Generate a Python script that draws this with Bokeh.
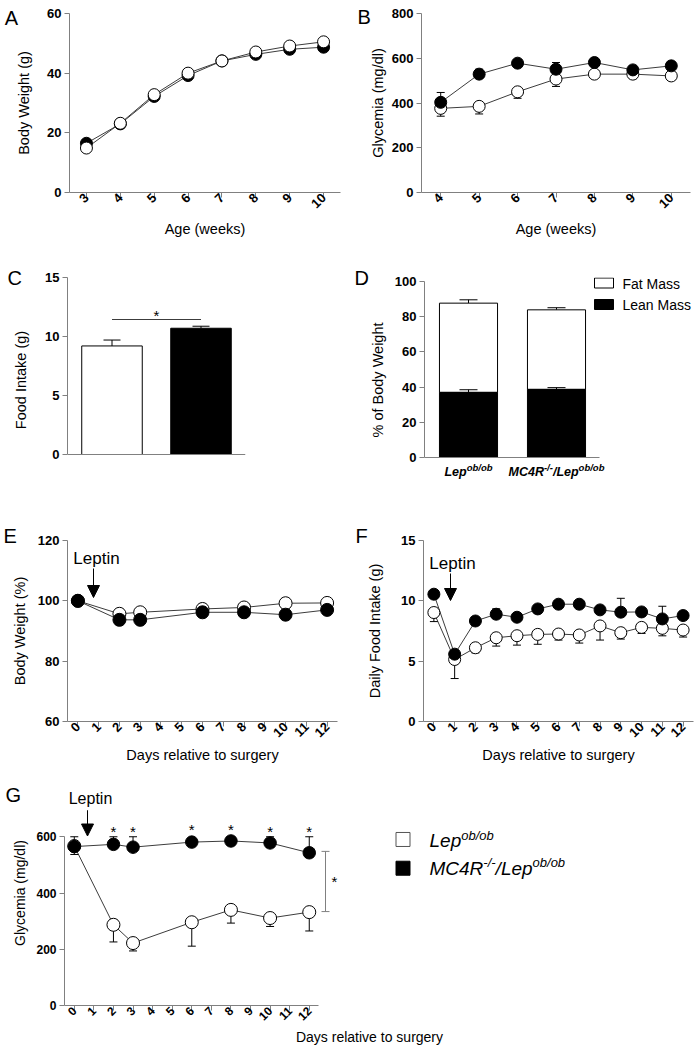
import math
from bokeh.plotting import figure
from bokeh.layouts import column, row
from bokeh.models import Range1d, FixedTicker, Label, Arrow, NormalHead
from bokeh.core.properties import value
from bokeh.embed import file_html
from bokeh.resources import INLINE

# ---------------- data ----------------
# A: body weight (g) vs age (weeks)
a_weeks = [3, 4, 5, 6, 7, 8, 9, 10]
a_lep = [14.9, 23.2, 32.8, 40.0, 44.1, 47.1, 49.1, 50.5]
a_lep_sem = [1.2, 0.8, 1.0, 0.9, 0.8, 1.1, 1.0, 1.0]
a_mc4r = [16.5, 23.0, 32.2, 39.2, 44.1, 46.3, 48.0, 48.7]
a_mc4r_sem = [0.7, 0.6, 0.8, 0.7, 0.6, 0.7, 0.8, 0.8]

# B: glycemia (mg/dl) vs age (weeks)
b_weeks = [4, 5, 6, 7, 8, 9, 10]
b_lep = [376, 385, 450, 507, 529, 529, 521]
b_lep_sem = [35, 34, 29, 33, 12, 20, 20]
b_mc4r = [403, 529, 578, 551, 581, 548, 566]
b_mc4r_sem = [44, 22, 6, 30, 8, 18, 8]

# C: food intake (g)
c_groups = ["Lep ob/ob", "MC4R-/-/Lep ob/ob"]
c_intake = [9.2, 10.7]
c_intake_sem = [0.5, 0.17]
c_sig_level = 11.44

# D: body composition (% of body weight)
d_lean = [37.0, 38.7]
d_lean_sem = [1.5, 1.0]
d_fat = [50.7, 45.2]
d_total_sem = [1.9, 1.2]

# E: body weight (%) vs days relative to surgery
e_days = [0, 2, 3, 6, 8, 10, 12]
e_lep = [100, 95.7, 96.2, 97.3, 97.8, 99.2, 99.3]
e_lep_sem = [0.3, 0.6, 0.6, 0.5, 0.5, 0.6, 0.6]
e_mc4r = [100, 93.7, 93.7, 96.2, 96.2, 95.4, 97.0]
e_mc4r_sem = [0.3, 0.6, 0.6, 0.5, 0.5, 0.6, 0.6]

# F: daily food intake (g)
f_days = [0, 1, 2, 3, 4, 5, 6, 7, 8, 9, 10, 11, 12]
f_lep = [9.03, 5.14, 6.11, 6.94, 7.11, 7.22, 7.25, 7.17, 7.92, 7.36, 7.80, 7.72, 7.58]
f_lep_sem = [0.75, 1.58, 0.42, 0.69, 0.78, 0.82, 0.50, 0.67, 1.17, 0.53, 0.50, 0.62, 0.58]
f_mc4r = [10.55, 5.58, 8.33, 8.89, 8.64, 9.33, 9.72, 9.72, 9.25, 9.06, 9.08, 8.50, 8.78]
f_mc4r_sem = [0.3, 0.3, 0.2, 0.45, 0.3, 0.3, 0.2, 0.2, 0.3, 1.15, 0.3, 1.05, 0.3]

# G: glycemia (mg/dl)
g_days = [0, 2, 3, 6, 8, 10, 12]
g_lep = [567, 287, 222, 296, 340, 311, 332]
g_lep_sem = [30, 61, 28, 85, 47, 30, 67]
g_mc4r = [565, 573, 563, 581, 585, 578, 543]
g_mc4r_sem = [35, 27, 37, 8, 8, 22, 57]
g_star_days = [2, 3, 6, 8, 10, 12]
g_star_y = [617, 617, 626, 626, 617, 617]
g_bracket = [334, 548]
g_bracket_star_y = 442

# ---------------- helpers ----------------
FONT = "Liberation Sans"
AX = "#808080"
LINE = "#3c3c3c"

W_REG = {"L": 556, "e": 556, "p": 556, "M": 833, "C": 722, "4": 556, "R": 722,
         "/": 278, "o": 556, "b": 556, "-": 333}
W_BOLD = {"L": 611, "e": 556, "p": 611, "M": 833, "C": 722, "4": 556, "R": 722,
          "/": 278, "o": 611, "b": 611, "-": 333}


def text_w(s, size, bold):
    t = W_BOLD if bold else W_REG
    return sum(t.get(c, 556) for c in s) * size / 1000.0


class Frame:
    def __init__(self, l, t, r, b, xr, yr):
        self.l, self.t, self.r, self.b = l, t, r, b
        self.xr, self.yr = xr, yr

    def x(self, px):
        return self.xr[0] + (px - self.l) * (self.xr[1] - self.xr[0]) / (self.r - self.l)

    def y(self, py):
        return self.yr[0] + (self.b - py) * (self.yr[1] - self.yr[0]) / (self.b - self.t)


def yrange(t, b, v0, p0, v1, p1):
    """y range of a frame [t, b] (px) given two reference ticks (value, px)."""
    k = (v1 - v0) / (p0 - p1)
    return (v0 - (b - p0) * k, v0 + (p0 - t) * k)


def make_fig(fr, cx, cy, cw, ch):
    p = figure(width=cw, height=ch,
               x_range=Range1d(*fr.xr), y_range=Range1d(*fr.yr),
               output_backend="svg", toolbar_location=None,
               min_border_left=fr.l - cx, min_border_right=cx + cw - fr.r,
               min_border_top=fr.t - cy, min_border_bottom=cy + ch - fr.b)
    p.grid.visible = False
    p.outline_line_color = None
    p.background_fill_color = "white"
    p.border_fill_color = "white"
    return p


def style_axes(p, xticks, yticks, xlabel, ylabel, tick_px=13, title_px=14.5,
               xstand=2, ystand=10, rotate=True):
    for ax in list(p.xaxis) + list(p.yaxis):
        ax.axis_line_color = AX
        ax.axis_line_width = 1
        ax.major_tick_line_color = AX
        ax.minor_tick_line_color = None
        ax.major_tick_out = 5
        ax.major_tick_in = 0
        ax.major_label_standoff = 3
        ax.major_label_text_font = FONT
        ax.major_label_text_font_style = "bold"
        ax.major_label_text_font_size = f"{tick_px}px"
        ax.major_label_text_color = "black"
        ax.axis_label_text_font = FONT
        ax.axis_label_text_font_style = "normal"
        ax.axis_label_text_font_size = f"{title_px}px"
        ax.axis_label_text_color = "black"
    p.xaxis.ticker = FixedTicker(ticks=xticks)
    p.yaxis.ticker = FixedTicker(ticks=yticks)
    p.xaxis.axis_label = xlabel
    p.yaxis.axis_label = ylabel
    p.xaxis.axis_label_standoff = int(xstand)
    p.yaxis.axis_label_standoff = int(ystand)
    if rotate:
        p.xaxis.major_label_orientation = math.pi / 4
        p.xaxis.major_label_standoff = -2


def bare_xaxis(p, bounds=None):
    ax = p.xaxis[0]
    ax.fixed_location = 0
    ax.major_tick_line_color = None
    ax.major_tick_out = 0
    ax.major_label_standoff = 0
    if bounds:
        ax.bounds = bounds


def err(p, x, mean, sem, up, cap=8):
    tip = [m + s if up else m - s for m, s in zip(mean, sem)]
    p.segment(x0=x, y0=mean, x1=x, y1=tip, line_color="black", line_width=1)
    p.scatter(x=x, y=tip, marker="dash", size=cap, line_color="black", line_width=1)


def series(p, x, mean, sem, filled, size, up):
    err(p, x, mean, sem, up)
    p.scatter(x=x, y=mean, marker="circle", size=size,
              fill_color="black" if filled else "white",
              line_color="black", line_width=1)


def letter(p, fr, txt, px, py, side):
    # kept in a side panel with spare room, so that it is not clipped to the plot frame
    p.add_layout(Label(x=fr.x(px), y=fr.y(py), text=txt, text_font=FONT,
                       text_font_size="20px", text_align="left",
                       text_baseline="alphabetic", text_color="black"), side)


def rich(p, fr, cx, cy, pieces, style, align="center"):
    bold = "bold" in style
    total = sum(text_w(t, s, bold) for t, s, _ in pieces)
    cur = cx - total / 2.0 if align == "center" else cx
    for t, s, rise in pieces:
        p.add_layout(Label(x=fr.x(cur), y=fr.y(cy - rise), text=t, text_font=FONT,
                           text_font_size=f"{s}px", text_font_style=style,
                           text_align="left", text_baseline="middle", text_color="black"))
        cur += text_w(t, s, bold)


def star(p, xs, ys, size="15px"):
    p.text(x=xs, y=ys, text=["*"] * len(xs), text_font=value(FONT), text_font_size=size,
           text_align="center", text_baseline="middle", text_color="black", text_alpha=1.0)


def leptin(p, fr, tx, ty, ax, ay0, ay1, size_px=17):
    p.add_layout(Label(x=fr.x(tx), y=fr.y(ty), text="Leptin", text_font=FONT,
                       text_font_size=f"{size_px}px", text_align="center",
                       text_baseline="middle", text_color="black"))
    p.add_layout(Arrow(end=NormalHead(size=12, fill_color="black", line_color="black",
                                      line_width=1),
                       x_start=fr.x(ax), y_start=fr.y(ay0), x_end=fr.x(ax), y_end=fr.y(ay1),
                       line_color="black", line_width=1))


# ---------------- panel A ----------------
frA = Frame(68, 13, 340, 193, (2.5, 10.5), (0, 60))
pA = make_fig(frA, 0, 0, 347, 240)
style_axes(pA, a_weeks, [0, 20, 40, 60], "Age (weeks)", "Body Weight (g)",
           xstand=6, ystand=12)
pA.line(a_weeks, a_mc4r, line_color=LINE, line_width=1)
pA.line(a_weeks, a_lep, line_color=LINE, line_width=1)
series(pA, a_weeks, a_mc4r, a_mc4r_sem, True, 12, True)
series(pA, a_weeks, a_lep, a_lep_sem, False, 12, False)
letter(pA, frA, "A", 3, 18, "left")

# ---------------- panel B ----------------
frB = Frame(421, 13, 690, 193, (3.5, 10.5), (0, 800))
pB = make_fig(frB, 347, 0, 347, 240)
style_axes(pB, b_weeks, [0, 200, 400, 600, 800], "Age (weeks)", "Glycemia (mg/dl)",
           xstand=6, ystand=3)
pB.line(b_weeks, b_lep, line_color=LINE, line_width=1)
pB.line(b_weeks, b_mc4r, line_color=LINE, line_width=1)
series(pB, b_weeks, b_lep, b_lep_sem, False, 12, False)
series(pB, b_weeks, b_mc4r, b_mc4r_sem, True, 12, True)
letter(pB, frB, "B", 357, 17, "left")

# ---------------- row 2 frames (bottom extended for the category labels) ----------------
ROW2_TOP, ROW2_BOT = 277, 482

# ---------------- panel C ----------------
c_x = list(range(1, len(c_groups) + 1))
frC = Frame(67, ROW2_TOP, 245, ROW2_BOT, (0.5, 2.5), yrange(ROW2_TOP, ROW2_BOT, 0, 454, 15, 277))
pC = make_fig(frC, 0, 240, 347, 250)
style_axes(pC, [], [0, 5, 10, 15], "", "Food Intake (g)", ystand=13, rotate=False)
bare_xaxis(pC)
pC.yaxis.bounds = (0, 15)
err(pC, c_x, c_intake, c_intake_sem, True, cap=17)
pC.vbar(x=c_x, top=c_intake, width=0.68, fill_color=["white", "black"],
        line_color="black", line_width=1)
pC.line([1, 2], [c_sig_level, c_sig_level], line_color=LINE, line_width=1)
star(pC, [1.5], [c_sig_level + 0.3])
letter(pC, frC, "C", 7, 277, "above")

# ---------------- panel D ----------------
d_x = list(range(1, len(c_groups) + 1))
d_total = [l + f for l, f in zip(d_lean, d_fat)]
frD = Frame(424, ROW2_TOP, 694, ROW2_BOT, (0.5, 0.5 + 270 / 88.0),
            yrange(ROW2_TOP, ROW2_BOT, 0, 457, 100, 281))
pD = make_fig(frD, 347, 240, 347, 250)
style_axes(pD, [], [0, 20, 40, 60, 80, 100], "", "% of Body Weight", ystand=6, rotate=False)
bare_xaxis(pD, bounds=(0.5, 0.5 + 175 / 88.0))
pD.yaxis.bounds = (0, 100)
err(pD, d_x, d_total, d_total_sem, True, cap=18)
pD.vbar(x=d_x, bottom=d_lean, top=d_total, width=0.66, fill_color="white",
        line_color="black", line_width=1)
pD.vbar(x=d_x, bottom=0, top=d_lean, width=0.66, fill_color="black",
        line_color="black", line_width=1)
err(pD, d_x, d_lean, d_lean_sem, True, cap=18)
# legend
pD.rect(x=[frD.x(603.5)] * 2, y=[frD.y(282.5), frD.y(304)], width=19, height=10,
        width_units="screen", height_units="screen",
        fill_color=["white", "black"], line_color="black", line_width=1)
for txt, py in (("Fat Mass", 283.5), ("Lean Mass", 304.5)):
    pD.add_layout(Label(x=frD.x(622), y=frD.y(py), text=txt, text_font=FONT,
                        text_font_size="14px", text_align="left",
                        text_baseline="middle", text_color="black"))
# category labels with superscripts
rich(pD, frD, 468, 471, [("Lep", 12.5, 0), ("ob/ob", 9.5, 4.5)], "bold italic")
rich(pD, frD, 556, 471, [("MC4R", 12.5, 0), ("-/-", 9.5, 4.5), ("/Lep", 12.5, 0),
                         ("ob/ob", 9.5, 4.5)], "bold italic")
letter(pD, frD, "D", 354, 277, "above")

# ---------------- panel E ----------------
frE = Frame(67, 540, 337, 721, (-0.5, 12.5), (60, 120))
pE = make_fig(frE, 0, 490, 347, 276)
style_axes(pE, f_days, [60, 80, 100, 120], "Days relative to surgery", "Body Weight (%)",
           xstand=3, ystand=7)
pE.line(e_days, e_lep, line_color=LINE, line_width=1)
pE.line(e_days, e_mc4r, line_color=LINE, line_width=1)
series(pE, e_days, e_lep, e_lep_sem, False, 13, False)
series(pE, e_days, e_mc4r, e_mc4r_sem, True, 13, True)
leptin(pE, frE, 96, 558, 93, 568, 597)
letter(pE, frE, "E", 3, 535, "above")

# ---------------- panel F ----------------
frF = Frame(423, 540, 693, 721, (-0.5, 12.5), (0, 15))
pF = make_fig(frF, 347, 490, 347, 276)
style_axes(pF, f_days, [0, 5, 10, 15], "Days relative to surgery", "Daily Food Intake (g)",
           xstand=3, ystand=15)
pF.line(f_days, f_lep, line_color=LINE, line_width=1)
pF.line(f_days, f_mc4r, line_color=LINE, line_width=1)
series(pF, f_days, f_lep, f_lep_sem, False, 12, False)
series(pF, f_days, f_mc4r, f_mc4r_sem, True, 12, True)
leptin(pF, frF, 452, 562.5, 450, 573, 600)
letter(pF, frF, "F", 355, 535, "above")

# ---------------- panel G ----------------
frG = Frame(64, 780, 674, 1007, (-0.5, -0.5 + 610 / 19.58), (0, 800))
pG = make_fig(frG, 0, 766, 694, 282)
style_axes(pG, f_days, [0, 200, 400, 600], "Days relative to surgery", "Glycemia (mg/dl)",
           tick_px=12, title_px=14, xstand=2, ystand=5)
pG.xaxis.bounds = (-0.5, 12.45)
pG.yaxis.bounds = (0, 600)
pG.line(g_days, g_lep, line_color=LINE, line_width=1)
pG.line(g_days, g_mc4r, line_color=LINE, line_width=1)
series(pG, g_days, g_lep, g_lep_sem, False, 13, False)
series(pG, g_days, g_mc4r, g_mc4r_sem, True, 12.5, True)
star(pG, g_star_days, g_star_y)
bx = frG.x(325)
pG.segment(x0=[bx], y0=[g_bracket[0]], x1=[bx], y1=[g_bracket[1]], line_color=AX, line_width=1)
pG.scatter(x=[bx, bx], y=g_bracket, marker="dash", size=8, line_color=AX, line_width=1)
star(pG, [frG.x(334)], [g_bracket_star_y])
leptin(pG, frG, 90, 798, 87, 810, 836, size_px=16)
letter(pG, frG, "G", 5, 795, "right")
# group legend
pG.scatter(x=[frG.x(402.5)] * 2, y=[frG.y(839.5), frG.y(868.5)], marker="square", size=14,
           fill_color=["white", "black"], line_color=["#555555", "black"], line_width=1)
rich(pG, frG, 429, 841, [("Lep", 19, 0), ("ob/ob", 13, 6)], "italic", align="left")
rich(pG, frG, 429, 868.5, [("MC4R", 19, 0), ("-/-", 13, 6), ("/Lep", 19, 0),
                           ("ob/ob", 13, 6)], "italic", align="left")

layout = column(row(pA, pB), row(pC, pD), row(pE, pF), row(pG))
open("out.html", "w").write(file_html(layout, INLINE))
